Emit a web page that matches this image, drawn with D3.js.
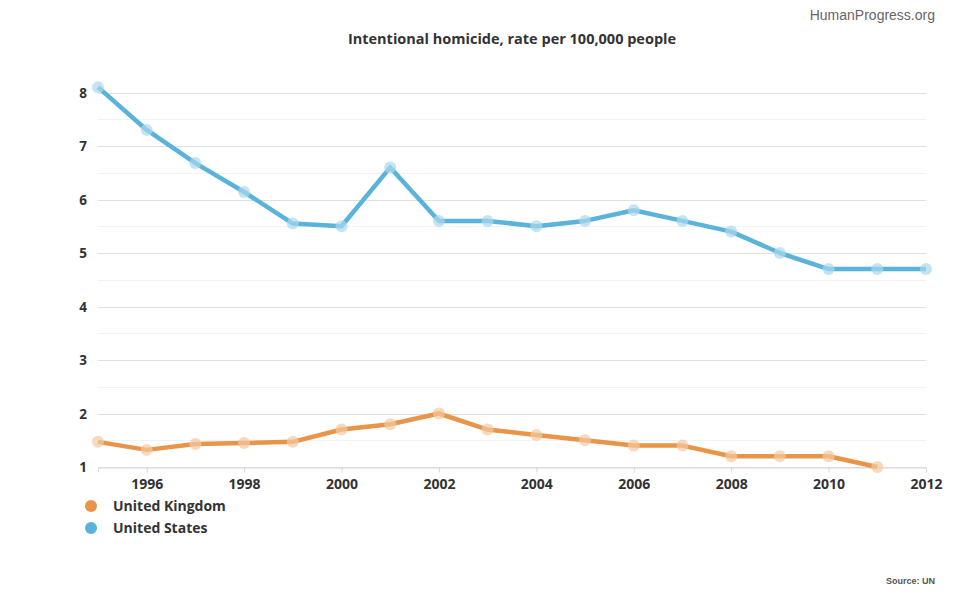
<!DOCTYPE html>
<html>
<head>
<meta charset="utf-8">
<script src="https://cdn.jsdelivr.net/npm/d3@7"></script>
<style>
  body { margin: 0; background: #fff; }
  svg { display: block; font-family: "Open Sans", sans-serif; }
</style>
</head>
<body>
<svg id="chart" width="970" height="600"></svg>
<script>
// data
const years = [1995, 1996, 1997, 1998, 1999, 2000, 2001, 2002, 2003, 2004, 2005, 2006, 2007, 2008, 2009, 2010, 2011, 2012]
const usValues = [8.1, 7.3, 6.68, 6.14, 5.55, 5.5, 6.6, 5.6, 5.6, 5.5, 5.6, 5.8, 5.6, 5.4, 5.0, 4.7, 4.7, 4.7]
const ukValues = [1.47, 1.32, 1.43, 1.45, 1.47, 1.7, 1.8, 2.0, 1.7, 1.6, 1.5, 1.4, 1.4, 1.2, 1.2, 1.2, 1.0]
const yTicks = [1, 2, 3, 4, 5, 6, 7, 8]
const xTicks = [1996, 1998, 2000, 2002, 2004, 2006, 2008, 2010, 2012]

const series = [
  {name: 'United Kingdom', values: ukValues, color: '#e8954a', light: '#f4c9a0'},
  {name: 'United States', values: usValues, color: '#5ab3db', light: '#a9d9ee'},
]

const svg = d3.select('#chart')
const plotLeft = 98, plotRight = 926, plotTop = 92.5, plotBottom = 467

const x = d3.scaleLinear().domain([1995, 2012]).range([plotLeft, plotRight])
const y = d3.scaleLinear().domain([1, 8]).range([plotBottom, plotTop])

// minor grid (half steps)
svg.append('g')
  .selectAll('line')
  .data(d3.range(1.5, 8, 1))
  .join('line')
  .attr('x1', plotLeft).attr('x2', plotRight)
  .attr('y1', d => Math.round(y(d)) + 0.5).attr('y2', d => Math.round(y(d)) + 0.5)
  .attr('stroke', '#f2f2f2')

// major grid
svg.append('g')
  .selectAll('line')
  .data(yTicks)
  .join('line')
  .attr('x1', plotLeft).attr('x2', plotRight)
  .attr('y1', d => Math.round(y(d)) + 0.5).attr('y2', d => Math.round(y(d)) + 0.5)
  .attr('stroke', '#e0e0e0')

// y labels
svg.append('g')
  .selectAll('text')
  .data(yTicks)
  .join('text')
  .attr('x', 87)
  .attr('y', d => y(d) + 5)
  .attr('text-anchor', 'end')
  .attr('font-size', 13.5)
  .attr('font-weight', 'bold')
  .attr('fill', '#333')
  .text(d => d)

// x axis
const xAxis = svg.append('g')
  .attr('transform', `translate(0, ${Math.round(plotBottom) + 0.5})`)
  .call(d3.axisBottom(x).tickValues(xTicks).tickFormat(d3.format('d')).tickSize(5).tickPadding(7))
xAxis.select('.domain').attr('stroke', '#d8d8d8')
xAxis.selectAll('.tick line').attr('stroke', '#d8d8d8')
xAxis.selectAll('.tick text')
  .attr('font-family', '"Open Sans", sans-serif')
  .attr('font-size', 14)
  .attr('font-weight', 'bold')
  .attr('fill', '#333')

const line = d3.line()
  .x((d, i) => x(years[i]))
  .y(d => y(d))

series.forEach(s => {
  svg.append('path')
    .datum(s.values)
    .attr('d', line)
    .attr('fill', 'none')
    .attr('stroke', s.color)
    .attr('stroke-width', 4.5)
    .attr('stroke-linejoin', 'round')

  svg.append('g')
    .selectAll('circle')
    .data(s.values)
    .join('circle')
    .attr('cx', (d, i) => x(years[i]))
    .attr('cy', d => y(d))
    .attr('r', 6)
    .attr('fill', s.light)
    .attr('fill-opacity', 0.7)
})

// title
svg.append('text')
  .attr('x', 512)
  .attr('y', 44)
  .attr('text-anchor', 'middle')
  .attr('font-size', 14.5)
  .attr('font-weight', 'bold')
  .attr('fill', '#333')
  .text('Intentional homicide, rate per 100,000 people')

// watermark
svg.append('text')
  .attr('x', 935)
  .attr('y', 20)
  .attr('text-anchor', 'end')
  .style('font-family', '"Liberation Sans", Arial, sans-serif')
  .attr('font-size', 14)
  .attr('fill', '#666')
  .text('HumanProgress.org')

// legend
const legend = svg.append('g')
  .selectAll('g')
  .data(series)
  .join('g')
  .attr('transform', (d, i) => `translate(91, ${506 + i * 22})`)
legend.append('circle').attr('r', 6).attr('fill', d => d.color)
legend.append('text')
  .attr('x', 22).attr('y', 5)
  .attr('font-size', 14)
  .attr('font-weight', 'bold')
  .attr('fill', '#333')
  .text(d => d.name)

// source
svg.append('text')
  .attr('x', 935)
  .attr('y', 584)
  .attr('text-anchor', 'end')
  .style('font-family', '"Liberation Sans", Arial, sans-serif')
  .attr('font-size', 9)
  .attr('font-weight', 'bold')
  .attr('fill', '#555')
  .text('Source: UN')
</script>
</body>
</html>
